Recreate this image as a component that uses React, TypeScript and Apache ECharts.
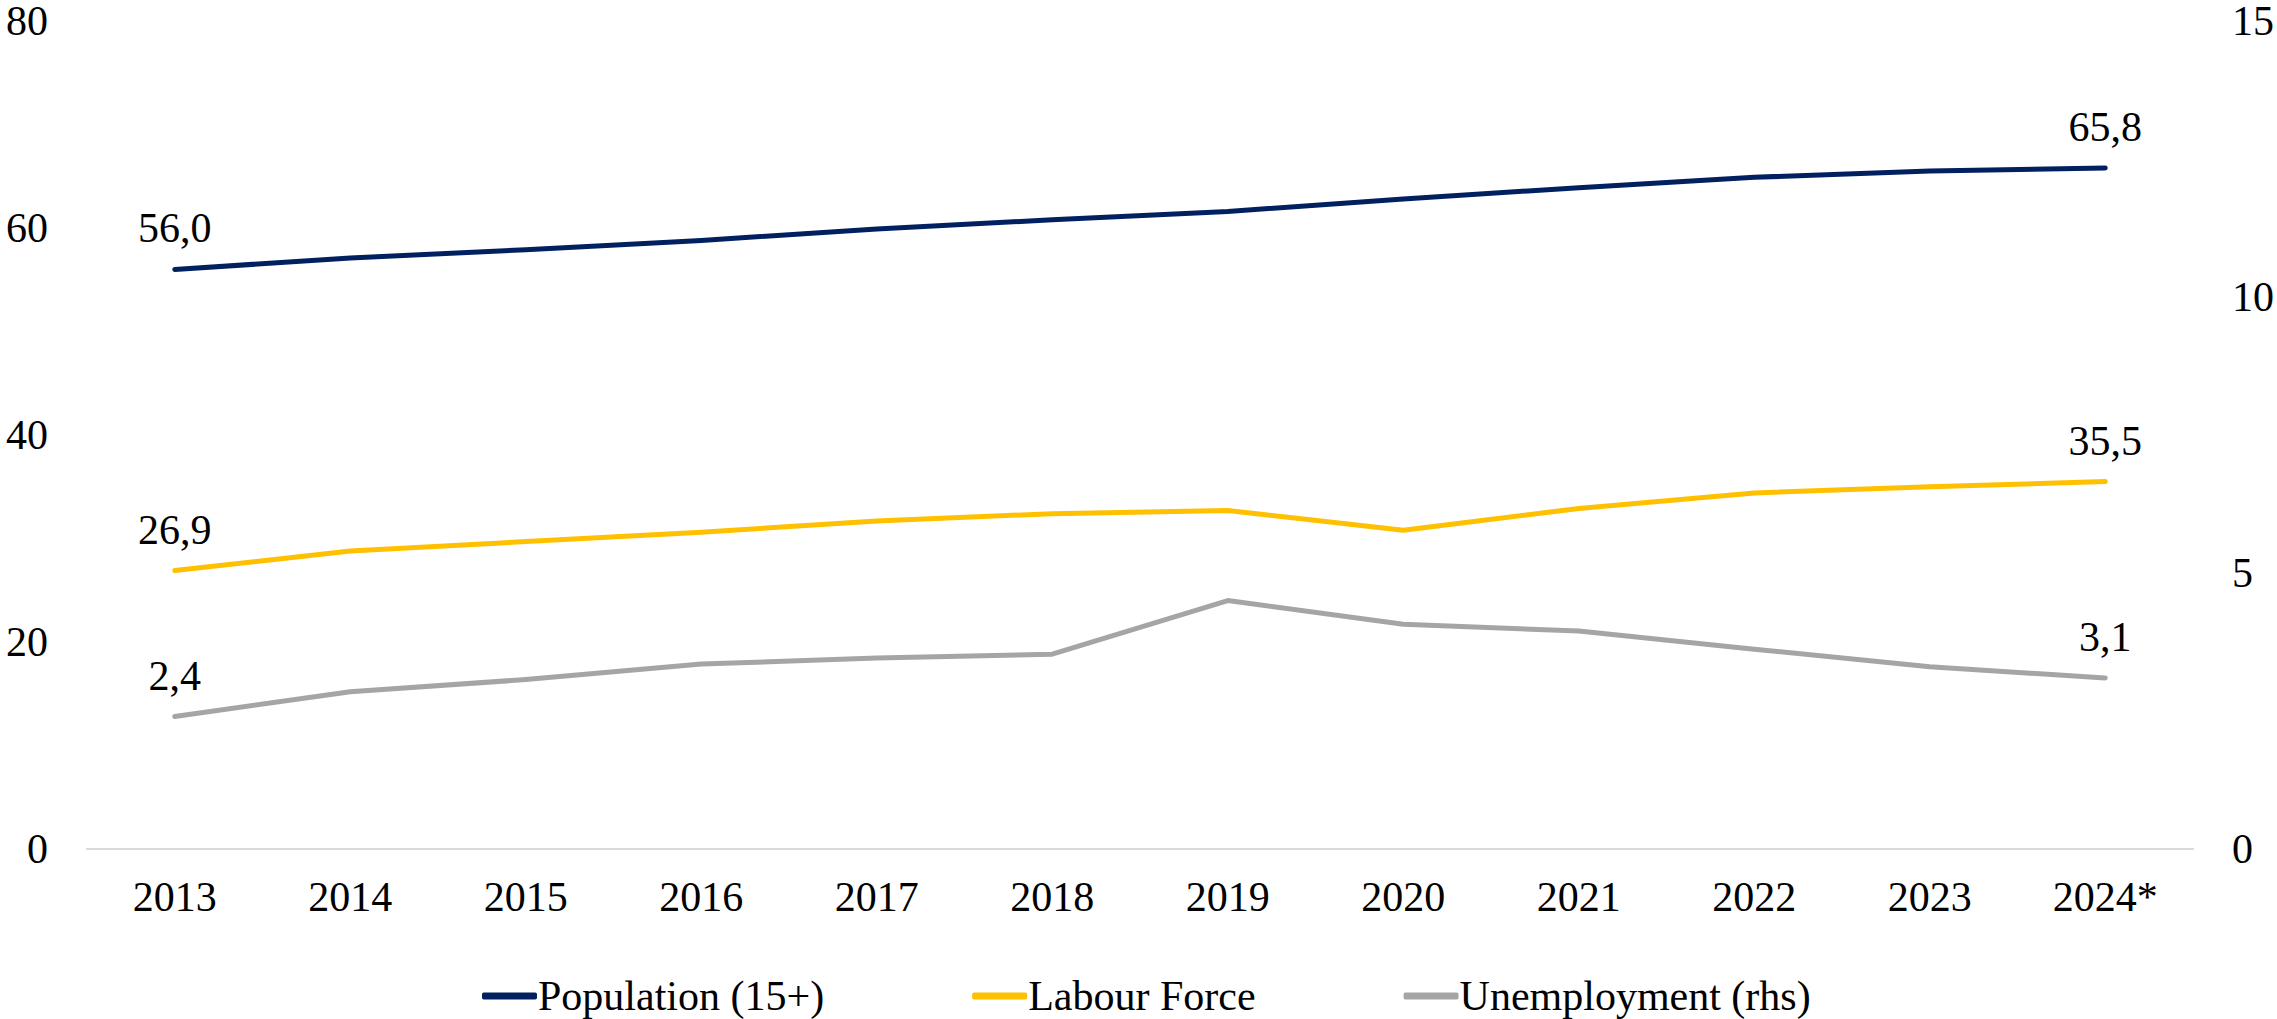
import React, { useEffect, useRef } from "react";
import * as echarts from "echarts";

const years = ["2013", "2014", "2015", "2016", "2017", "2018", "2019", "2020", "2021", "2022", "2023", "2024*"];
const population = [56.0, 57.1, 57.9, 58.8, 59.9, 60.8, 61.6, 62.8, 63.9, 64.9, 65.5, 65.8];
const labourForce = [26.9, 28.8, 29.7, 30.6, 31.7, 32.4, 32.7, 30.8, 32.9, 34.4, 35.0, 35.5];
const unemployment = [2.4, 2.85, 3.07, 3.35, 3.46, 3.53, 4.5, 4.07, 3.95, 3.62, 3.3, 3.1];
const leftTicks = { min: 0, max: 80, interval: 20 };
const rightTicks = { min: 0, max: 15, interval: 5 };

const FONT = "'Liberation Serif', 'Times New Roman', serif";
const FS = 42;

const fmt = (v: number) => v.toFixed(1).replace(".", ",");

function endLabels(n: number) {
  return {
    show: true,
    position: "top" as const,
    distance: 19,
    fontFamily: FONT,
    fontSize: FS,
    color: "#000",
    formatter: (p: any) => (p.dataIndex === 0 || p.dataIndex === n - 1 ? fmt(p.value) : ""),
  };
}

function lineSeries(name: string, data: number[], axis: number, color: string, n: number) {
  return {
    name,
    type: "line",
    data,
    yAxisIndex: axis,
    symbol: "circle",
    symbolSize: 2,
    showSymbol: true,
    showAllSymbol: true,
    color,
    itemStyle: { color },
    lineStyle: { color, width: 5, cap: "round", join: "round" },
    label: endLabels(n),
    labelLayout: { hideOverlap: false },
  };
}

export default function App() {
  const ref = useRef<HTMLDivElement>(null);
  useEffect(() => {
    if (!ref.current) return;
    const chart = echarts.init(ref.current, null, { renderer: "svg" });
    const n = years.length;
    chart.setOption({
      animation: false,
      backgroundColor: "#fff",
      grid: { left: 87, right: 84, top: 21, bottom: 1019 - 849, containLabel: false },
      legend: {
        left: 477,
        top: 970,
        itemWidth: 55,
        itemHeight: 7,
        itemGap: 148,
        icon: "roundRect",
        textStyle: { fontFamily: FONT, fontSize: FS, color: "#000", padding: [0, 0, 0, -4] },
        data: ["Population (15+)", "Labour Force", "Unemployment (rhs)"],
      },
      xAxis: {
        type: "category",
        data: years,
        boundaryGap: true,
        axisLine: { show: true, lineStyle: { color: "#D9D9D9", width: 2 } },
        axisTick: { show: false },
        axisLabel: { fontFamily: FONT, fontSize: FS, color: "#000", margin: 27 },
      },
      yAxis: [
        {
          type: "value",
          ...leftTicks,
          splitLine: { show: false },
          axisLine: { show: false },
          axisTick: { show: false },
          axisLabel: { fontFamily: FONT, fontSize: FS, lineHeight: 36, color: "#000", margin: 39 },
        },
        {
          type: "value",
          position: "right",
          ...rightTicks,
          splitLine: { show: false },
          axisLine: { show: false },
          axisTick: { show: false },
          axisLabel: { fontFamily: FONT, fontSize: FS, lineHeight: 36, color: "#000", margin: 39 },
        },
      ],
      series: [
        lineSeries("Population (15+)", population, 0, "#002060", n),
        lineSeries("Labour Force", labourForce, 0, "#FFC000", n),
        lineSeries("Unemployment (rhs)", unemployment, 1, "#A5A5A5", n),
      ],
    });
    return () => chart.dispose();
  }, []);
  return (
    <div
      ref={ref}
      style={{ position: "fixed", left: 0, top: 0, width: 2277, height: 1019, background: "#fff" }}
    />
  );
}
